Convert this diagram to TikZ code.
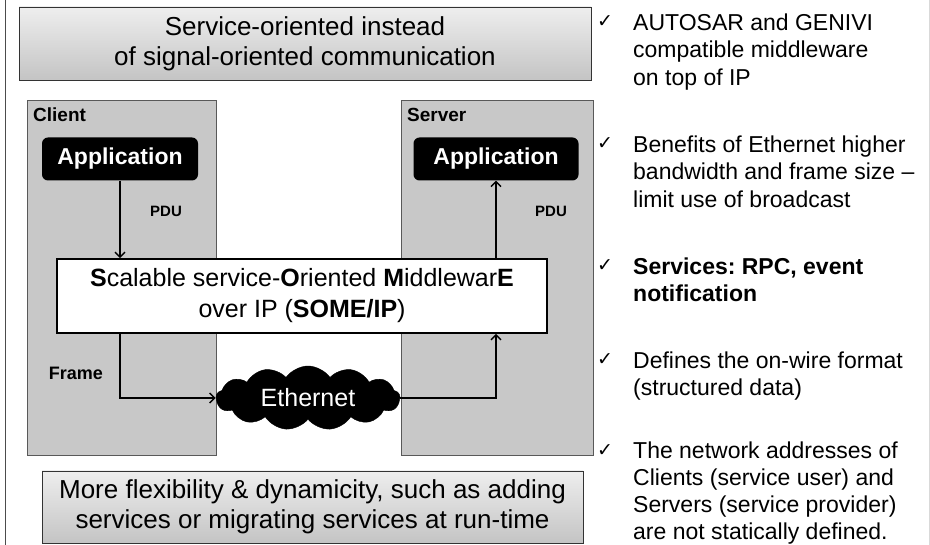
\documentclass[tikz,border=0pt]{standalone}
\usepackage{fontspec}
\setmainfont{Liberation Sans}
\newfontfamily\symfont{DejaVu Sans}
\usetikzlibrary{shapes.symbols,arrows.meta}
\definecolor{hostgray}{HTML}{C8C8C8}
\definecolor{bantop}{HTML}{EEEEEE}
\definecolor{banbot}{HTML}{C4C4C4}
\frenchspacing
\begin{document}
\begin{tikzpicture}[x=1pt,y=-1pt,
  banner/.style={draw=black!80, line width=0.8pt, top color=bantop, bottom color=banbot,
    align=center, inner sep=0pt, font=\fontsize{26}{30}\selectfont},
  hostbox/.style={draw=black!65, fill=hostgray, line width=0.8pt, inner sep=0pt},
  hostlabel/.style={anchor=west, inner sep=0pt, font=\bfseries\fontsize{19}{22}\selectfont},
  appbox/.style={fill=black, rounded corners=6pt, text=white, inner sep=0pt,
    font=\bfseries\fontsize{23}{27}\selectfont},
  midbox/.style={draw=black, fill=white, line width=1.6pt, inner sep=0pt, align=center,
    font=\fontsize{25}{31}\selectfont},
  netcloud/.style={cloud, cloud puffs=13, cloud puff arc=110, aspect=3, fill=black, draw=black,
    text=white, inner sep=0pt, font=\fontsize{25}{28}\selectfont},
  flowlabel/.style={inner sep=0pt, font=\bfseries\fontsize{15}{18}\selectfont},
  flow/.style={line width=1.6pt, -{Straight Barb[length=5pt,width=10pt,line width=1.4pt]}},
  tick/.style={inner sep=0pt, font=\symfont\fontsize{19}{22}\selectfont},
  bullet/.style={anchor=north west, inner sep=0pt, align=left, font=\fontsize{23}{27.5}\selectfont}]
\useasboundingbox (0,0) rectangle (930,545);
\fill[white] (0,0) rectangle (930,545);
% page frame lines
\coordinate (fl1) at (5,0); \coordinate (fl2) at (5,545);
\draw[black!70, line width=1pt] (fl1) -- (fl2);
\coordinate (fr1) at (929,0); \coordinate (fr2) at (929,545);
\draw[black!15, line width=1pt] (fr1) -- (fr2);

% banners
\node[banner, minimum width=572pt, minimum height=73pt] (top) at (305,43.5)
  {Service-oriented instead\\of signal-oriented communication};
\node[banner, minimum width=541pt, minimum height=72pt] (bottom) at (312.5,507)
  {More flexibility \& dynamicity, such as adding\\services or migrating services at run-time};

% hosts
\node[hostbox, minimum width=189pt, minimum height=355pt] (client) at (121.5,277.5) {};
\node[hostbox, minimum width=192pt, minimum height=355pt] (server) at (497,277.5) {};
\node[hostlabel] (clientlbl) at (33,115) {Client};
\node[hostlabel] (serverlbl) at (407,115) {Server};

% applications
\node[appbox, minimum width=156pt, minimum height=43pt] (appL) at (120,159) {Application};
\node[appbox, minimum width=165pt, minimum height=43pt] (appR) at (496,159) {Application};

% middleware
\node[midbox, minimum width=490pt, minimum height=74pt] (some) at (302,296)
  {\textbf{S}calable service-\textbf{O}riented \textbf{M}iddlewar\textbf{E}\\over IP (\textbf{SOME/IP})};

% ethernet
\node[netcloud, minimum width=184pt, minimum height=64pt] (eth) at (308,398) {Ethernet};

% labels
\node[flowlabel] (pduL) at (166,211) {PDU};
\node[flowlabel] (pduR) at (551,211) {PDU};
\node[flowlabel, font=\bfseries\fontsize{18}{21}\selectfont] (frame) at (76,373) {Frame};

% connectors
\draw[flow] (appL.south) -- (appL.south |- some.north);
\draw[flow] (some.north -| appR.south) -- (appR.south);
\draw[flow] (some.south -| appL.south) |- (eth.west);
\draw[flow] (eth.east) -| (some.south -| appR.south);

% bullets
\node[tick] (t1) at (605,22) {✓};
\node[tick] (t2) at (605,144) {✓};
\node[tick] (t3) at (605,266) {✓};
\node[tick] (t4) at (605,360) {✓};
\node[tick] (t5) at (605,451) {✓};
\node[bullet] (b1) at (633,10.75) {\strut AUTOSAR and GENIVI\\compatible middleware\\on top of IP};
\node[bullet] (b2) at (633,132.75) {\strut Benefits of Ethernet higher\\bandwidth and frame size –\\limit use of broadcast};
\node[bullet] (b3) at (633,254.75) {\strut\textbf{Services: RPC, event}\\\textbf{notification}};
\node[bullet] (b4) at (633,348.75) {\strut Defines the on-wire format\\(structured data)};
\node[bullet, font=\fontsize{23}{27}\selectfont] (b5) at (633,439) {\strut The network addresses of\\Clients (service user) and\\Servers (service provider)\\are not statically defined.};
\end{tikzpicture}
\end{document}
